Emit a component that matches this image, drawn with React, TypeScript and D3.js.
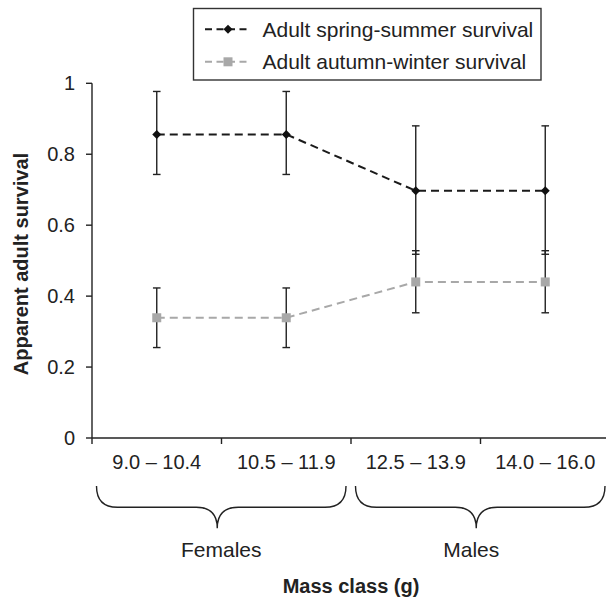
import React from "react";
import * as d3 from "d3";

const categories = ["9.0 – 10.4", "10.5 – 11.9", "12.5 – 13.9", "14.0 – 16.0"];
const springValues = [0.856, 0.856, 0.697, 0.697];
const springLower = [0.743, 0.743, 0.518, 0.518];
const springUpper = [0.977, 0.977, 0.88, 0.88];
const autumnValues = [0.339, 0.339, 0.44, 0.44];
const autumnLower = [0.255, 0.255, 0.353, 0.353];
const autumnUpper = [0.423, 0.423, 0.528, 0.528];
const yTicks = [0, 0.2, 0.4, 0.6, 0.8, 1];
const groups = [
  { label: "Females", from: 0, to: 1 },
  { label: "Males", from: 2, to: 3 },
];
const legendLabels = ["Adult spring-summer survival", "Adult autumn-winter survival"];

const FONT = "'Liberation Sans', Arial, sans-serif";
const INK = "#222";
const GRAY = "#a8a8a8";

export default function App() {
  const W = 606, H = 600;
  const left = 92, bandW = 129.5;
  const x = d3.scaleBand<string>().domain(categories).range([left, left + bandW * 4]);
  const y = d3.scaleLinear().domain([0, 1]).range([438, 83.3]);
  const cx = (c: string) => (x(c) as number) + x.bandwidth() / 2;

  const line = d3.line<number>().x((_, i) => cx(categories[i])).y((v) => y(v));

  const brace = (x0: number, x1: number) => {
    const top = 486, mid = 507.3, tip = 528.3, r = 21;
    const xm = (x0 + x1) / 2 - 4;
    return `M${x0},${top} Q${x0},${mid} ${x0 + r},${mid} L${xm - r},${mid} Q${xm},${mid} ${xm},${tip} Q${xm},${mid} ${xm + r},${mid} L${x1 - r},${mid} Q${x1},${mid} ${x1},${top}`;
  };

  const errBar = (i: number, lo: number, hi: number, key: string) => {
    const px = cx(categories[i]);
    return (
      <g key={key} stroke={INK} strokeWidth={1.4}>
        <line x1={px} x2={px} y1={y(lo)} y2={y(hi)} />
        <line x1={px - 3.8} x2={px + 3.8} y1={y(lo)} y2={y(lo)} />
        <line x1={px - 3.8} x2={px + 3.8} y1={y(hi)} y2={y(hi)} />
      </g>
    );
  };

  const diamond = (px: number, py: number, key: string, s = 4.5) => (
    <path key={key} d={`M${px},${py - s} L${px + s},${py} L${px},${py + s} L${px - s},${py} Z`} fill="#111" />
  );
  const square = (px: number, py: number, key: string, s = 4.5) => (
    <rect key={key} x={px - s} y={py - s} width={2 * s} height={2 * s} fill={GRAY} />
  );

  const axisRight = left + bandW * 4;

  return (
    <svg width={W} height={H} style={{ position: "absolute", left: 0, top: 0 }} fontFamily={FONT}>
      <rect width={W} height={H} fill="#fff" />
      {/* axes */}
      <line x1={left} x2={left} y1={y(1)} y2={y(0)} stroke={INK} strokeWidth={1.4} />
      <line x1={left} x2={axisRight} y1={y(0)} y2={y(0)} stroke={INK} strokeWidth={1.4} />
      {yTicks.map((t) => (
        <g key={t}>
          <line x1={left - 6} x2={left} y1={y(t)} y2={y(t)} stroke={INK} strokeWidth={1.4} />
          <text x={75} y={y(t)} dy="0.34em" textAnchor="end" fontSize={20} fill={INK}>
            {t === 0 || t === 1 ? String(t) : t.toFixed(1)}
          </text>
        </g>
      ))}
      {categories.map((c) => (
        <g key={c}>
          <line x1={x(c) as number} x2={x(c) as number} y1={y(0)} y2={y(0) + 6} stroke={INK} strokeWidth={1.4} />
          <text x={cx(c)} y={469.3} textAnchor="middle" fontSize={20} fill={INK}>{c}</text>
        </g>
      ))}
      <line x1={axisRight} x2={axisRight} y1={y(0)} y2={y(0) + 6} stroke={INK} strokeWidth={1.4} />
      {/* braces */}
      {groups.map((g, gi) => {
        const x0 = (x(categories[g.from]) as number) + 4.5;
        const x1 = (x(categories[g.to]) as number) + bandW - 5;
        const lx = (x0 + x1) / 2 - (gi === 0 ? 0 : 9);
        return (
          <g key={g.label}>
            <path d={brace(x0, x1)} fill="none" stroke={INK} strokeWidth={1.4} />
            <text x={lx} y={556.7} textAnchor="middle" fontSize={21} fill={INK}>{g.label}</text>
          </g>
        );
      })}
      <text x={(left + axisRight) / 2} y={593.3} textAnchor="middle" fontSize={20} fontWeight="bold" fill={INK}>Mass class (g)</text>
      <text transform={`translate(28,264) rotate(-90)`} textAnchor="middle" fontSize={20} fontWeight="bold" fill={INK}>Apparent adult survival</text>

      {/* error bars */}
      {springValues.map((_, i) => errBar(i, springLower[i], springUpper[i], "se" + i))}
      {autumnValues.map((_, i) => errBar(i, autumnLower[i], autumnUpper[i], "ae" + i))}

      {/* lines */}
      <path d={line(autumnValues) as string} fill="none" stroke={GRAY} strokeWidth={2} strokeDasharray="8,5" />
      <path d={line(springValues) as string} fill="none" stroke="#1a1a1a" strokeWidth={2} strokeDasharray="8,5" />
      {autumnValues.map((v, i) => square(cx(categories[i]), y(v), "as" + i))}
      {springValues.map((v, i) => diamond(cx(categories[i]), y(v), "sd" + i))}

      {/* legend */}
      <rect x={193.5} y={8.5} width={347.5} height={71.5} fill="#fff" stroke="#333" strokeWidth={1.4} />
      {legendLabels.map((l, i) => {
        const ly = 29.3 + i * 32.5;
        return (
          <g key={l}>
            <line x1={205} x2={251} y1={ly} y2={ly} stroke={i === 0 ? "#1a1a1a" : GRAY} strokeWidth={2} strokeDasharray="7,4.5" />
            {i === 0 ? diamond(228, ly, "ld") : square(228, ly, "ls")}
            <text x={262.5} y={ly} dy="0.36em" fontSize={21} fill={INK}>{l}</text>
          </g>
        );
      })}
    </svg>
  );
}
